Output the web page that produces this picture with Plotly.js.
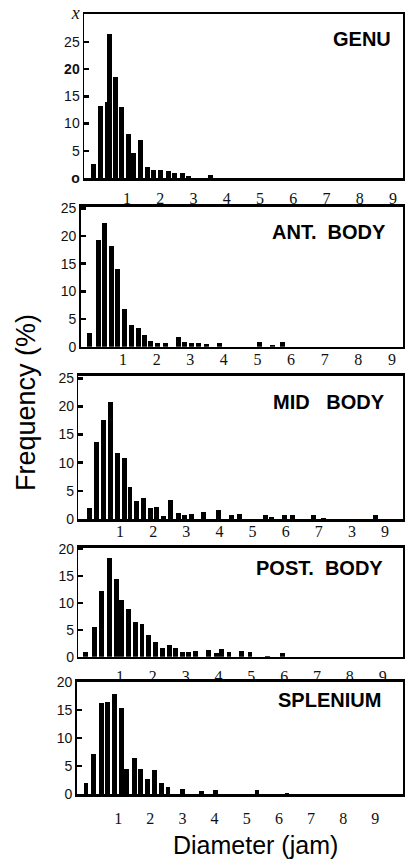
<!DOCTYPE html>
<html>
<head>
<meta charset="utf-8">
<script src="https://cdn.plot.ly/plotly-3.0.1.min.js"></script>
<style>html,body{margin:0;padding:0;background:#fff;}#chart{width:405px;height:859px;}</style>
</head>
<body>
<div id="chart"></div>
<script>
// ---- data (diameter in µm, frequency in %) ----
const panelNames = ["GENU", "ANT.  BODY", "MID   BODY", "POST.  BODY", "SPLENIUM"];

const genuX = [0.0, 0.2, 0.4, 0.48, 0.64, 0.82, 1.04, 1.21, 1.42, 1.61, 1.81, 2.01, 2.24, 2.44, 2.66, 2.84, 3.5];
const genuY = [2.6, 13.3, 14, 26.5, 18.5, 13, 8, 4.5, 7, 2, 1.5, 1.5, 1.2, 0.9, 0.9, 0.4, 0.6];

const antX = [0.01, 0.26, 0.44, 0.66, 0.84, 1.04, 1.24, 1.45, 1.65, 1.83, 2.03, 2.25, 2.64, 2.84, 3.04, 3.24, 3.47, 3.88, 5.07, 5.46, 5.75];
const antY = [2.5, 19.3, 22.3, 18.2, 14, 6.9, 3.9, 3.4, 2.2, 1.0, 0.7, 0.6, 1.8, 0.9, 0.6, 0.6, 0.5, 0.7, 0.8, 0.3, 0.8];

const midX = [0.07, 0.29, 0.49, 0.72, 0.92, 1.12, 1.3, 1.5, 1.71, 1.91, 2.11, 2.31, 2.51, 2.76, 2.95, 3.15, 3.52, 3.96, 4.36, 4.6, 5.4, 5.57, 5.96, 6.2, 6.84, 7.14, 8.7];
const midY = [2.0, 13.6, 17.6, 20.7, 11.7, 10.9, 5.7, 3.2, 3.8, 2.0, 2.2, 0.6, 3.4, 1.0, 0.7, 0.9, 1.3, 1.6, 0.8, 0.9, 0.7, 0.3, 0.8, 0.8, 0.7, 0.2, 0.7];

const postX = [-0.04, 0.21, 0.44, 0.67, 0.88, 1.05, 1.26, 1.46, 1.67, 1.87, 2.07, 2.3, 2.5, 2.7, 2.9, 3.1, 3.3, 3.7, 3.95, 4.1, 4.32, 4.69, 4.96, 5.5, 5.94];
const postY = [0.9, 5.6, 12.2, 18.4, 14.4, 10.5, 8.9, 6.4, 6.0, 4.1, 2.7, 1.7, 2.2, 1.7, 0.9, 0.8, 1.0, 1.3, 0.7, 1.5, 0.8, 1.1, 0.8, 0.2, 0.7];

const splX = [0.0, 0.23, 0.49, 0.68, 0.88, 1.11, 1.25, 1.5, 1.7, 1.91, 2.14, 2.35, 2.55, 2.99, 3.6, 4.04, 5.32, 6.25];
const splY = [2.0, 7.1, 16.2, 16.5, 17.8, 15.3, 4.5, 6.4, 4.5, 2.8, 4.3, 2.0, 1.3, 1.0, 0.6, 0.7, 0.8, 0.2];

const xTickVals = [1, 2, 3, 4, 5, 6, 7, 8, 9];
const xTickText = ["1", "2", "3", "4", "5", "6", "7", "8", "9"];
const xTickTextMid = ["1", "2", "3", "4", "5", "6", "7", "3", "9"];

const yTickVals25 = [0, 5, 10, 15, 20, 25];
const yTickVals20 = [0, 5, 10, 15, 20];
const yTickValsGenu = [0, 5, 10, 15, 20, 25, 30];
const yTickTextGenu = ["<b>o</b>", "5", "10", "15", "<b>20</b>", "25",
  "<span style=\"font-family:'Liberation Serif',serif;font-size:18px\"><i>x</i></span>"];

const xLabel = "Diameter (jam)";
const yLabel = "Frequency (%)";

// ---- layout geometry (pixels) ----
const W = 405, H = 859;
const panels = [
  {x: genuX, y: genuY, box: [84, 403, 14, 178],  xr: [-0.293, 9.30], yr: [0, 30.1], yt: yTickValsGenu, ytt: yTickTextGenu, xtt: xTickText, so: 4, lab: [393, 39]},
  {x: antX,  y: antY,  box: [80.7, 403, 206.7, 346.7], xr: [-0.26, 9.33], yr: [0, 25.3], yt: yTickVals25, ytt: null, xtt: xTickText, so: -3, lab: [388, 232]},
  {x: midX,  y: midY,  box: [78.3, 403, 375.7, 519], xr: [-0.26, 9.54], yr: [0, 25.46], yt: yTickVals25, ytt: null, xtt: xTickTextMid, so: -4, lab: [387, 402]},
  {x: postX, y: postY, box: [78.3, 403, 547.7, 656.7], xr: [-0.27, 9.62], yr: [0, 20.24], yt: yTickVals20, ytt: null, xtt: xTickText, so: 4, lab: [385, 568]},
  {x: splX,  y: splY,  box: [76.7, 403.3, 681.7, 794.3], xr: [-0.29, 9.87], yr: [0, 20.03], yt: yTickVals20, ytt: null, xtt: xTickText, so: 8, lab: [383, 700]}
];

const traces = [];
const layout = {
  width: W, height: H,
  margin: {l: 0, r: 0, t: 0, b: 0},
  paper_bgcolor: "#fff", plot_bgcolor: "#fff",
  showlegend: false,
  bargap: 0,
  annotations: []
};

panels.forEach((p, i) => {
  const n = i + 1;
  const xa = "xaxis" + (n === 1 ? "" : n);
  const ya = "yaxis" + (n === 1 ? "" : n);
  traces.push({
    type: "bar",
    x: p.x, y: p.y,
    width: 0.15,
    marker: {color: "#000", line: {width: 0}},
    xaxis: "x" + (n === 1 ? "" : n),
    yaxis: "y" + (n === 1 ? "" : n),
    hoverinfo: "skip"
  });
  layout[xa] = {
    domain: [p.box[0] / W, p.box[1] / W],
    range: p.xr,
    anchor: "y" + (n === 1 ? "" : n),
    showgrid: false, zeroline: false,
    showline: true, linecolor: "#000", linewidth: 2.5, mirror: true,
    ticks: "",
    tickmode: "array", tickvals: xTickVals, ticktext: p.xtt,
    ticklabelstandoff: p.so,
    tickfont: {family: "Liberation Serif, Times New Roman, serif", size: 16, color: "#111"}
  };
  const yax = {
    domain: [1 - p.box[3] / H, 1 - p.box[2] / H],
    range: p.yr,
    anchor: "x" + (n === 1 ? "" : n),
    showgrid: false, zeroline: false,
    showline: true, linecolor: "#000", linewidth: 1.5, mirror: true,
    ticks: "inside", ticklen: 5, tickwidth: 2.5, tickcolor: "#000",
    tickmode: "array", tickvals: p.yt,
    tickfont: {family: "Liberation Sans, Arial, sans-serif", size: 14, color: "#111"}
  };
  if (p.ytt) yax.ticktext = p.ytt;
  layout[ya] = yax;
  layout.annotations.push({
    xref: "paper", yref: "paper",
    x: p.lab[0] / W, y: 1 - p.lab[1] / H,
    xanchor: "right", yanchor: "middle",
    text: "<b>" + panelNames[i] + "</b>",
    showarrow: false,
    font: {family: "Liberation Sans, Arial, sans-serif", size: 20, color: "#000"}
  });
});

layout.annotations.push({
  xref: "paper", yref: "paper",
  x: 26 / W, y: 1 - 403 / H,
  xanchor: "center", yanchor: "middle",
  text: yLabel, textangle: -90, showarrow: false,
  font: {family: "Liberation Sans, Arial, sans-serif", size: 27, color: "#000"}
});
layout.annotations.push({
  xref: "paper", yref: "paper",
  x: 255 / W, y: 1 - 845 / H,
  xanchor: "center", yanchor: "middle",
  text: xLabel, showarrow: false,
  font: {family: "Liberation Sans, Arial, sans-serif", size: 25, color: "#000"}
});

Plotly.newPlot("chart", traces, layout, {staticPlot: true, displayModeBar: false});
</script>
</body>
</html>
